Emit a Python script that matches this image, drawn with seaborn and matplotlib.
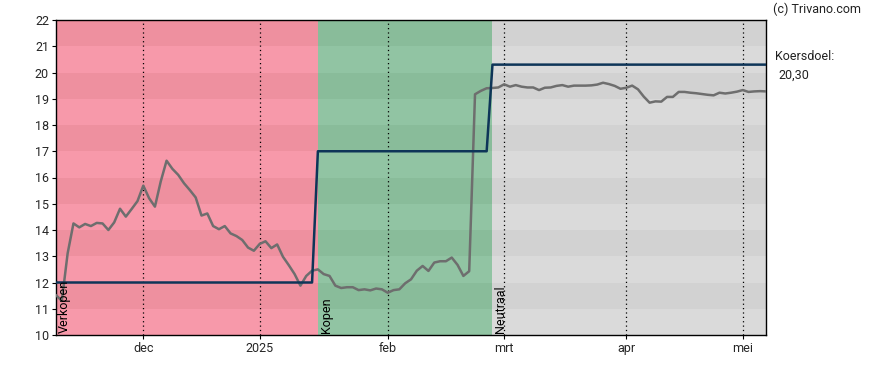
import numpy as np
import pandas as pd
import seaborn as sns
import matplotlib.pyplot as plt

# koers per handelsdag (index 0 = begin van de grafiek)
price = [11.52, 11.30, 13.11, 14.25, 14.10, 14.23, 14.15, 14.27, 14.25, 14.00,
         14.29, 14.81, 14.51, 14.80, 15.10, 15.69, 15.21, 14.89, 15.85, 16.64,
         16.33, 16.10, 15.78, 15.52, 15.24, 14.55, 14.63, 14.15, 14.03, 14.15,
         13.87, 13.77, 13.62, 13.33, 13.21, 13.47, 13.57, 13.31, 13.45, 12.98,
         12.66, 12.32, 11.88, 12.25, 12.45, 12.50, 12.32, 12.25, 11.88, 11.79,
         11.82, 11.82, 11.71, 11.74, 11.70, 11.77, 11.74, 11.61, 11.71, 11.74,
         11.97, 12.12, 12.45, 12.63, 12.44, 12.76, 12.81, 12.81, 12.95, 12.67,
         12.25, 12.43, 19.17, 19.30, 19.40, 19.41, 19.43, 19.55, 19.46, 19.52,
         19.46, 19.43, 19.43, 19.33, 19.42, 19.43, 19.49, 19.52, 19.46, 19.50,
         19.50, 19.50, 19.51, 19.54, 19.61, 19.56, 19.49, 19.38, 19.42, 19.50,
         19.36, 19.08, 18.85, 18.90, 18.89, 19.07, 19.07, 19.26, 19.26, 19.23,
         19.21, 19.18, 19.15, 19.13, 19.23, 19.20, 19.23, 19.27, 19.33, 19.26,
         19.28, 19.29, 19.28]
days = list(range(len(price)))

# koersdoel
target_days = [0, 44, 45, 74, 75, 122]
target_vals = [12, 12, 17, 17, 20.3, 20.3]

# advies-periodes
advice_labels = ['Verkopen', 'Kopen', 'Neutraal']
advice_start = [0, 45, 75]
advice_end = [45, 75, 122]
advice_light = ['#F799AA', '#91C4A3', '#DADADA']
advice_dark = ['#EE909F', '#89BC9A', '#D2D2D2']

tick_pos = [15, 35, 57, 77, 98, 118]
tick_labels = ['dec', '2025', 'feb', 'mrt', 'apr', 'mei']

df = pd.DataFrame({'dag': days, 'koers': price})
df_target = pd.DataFrame({'dag': target_days, 'doel': target_vals})

sns.set_style('white')
plt.rcParams['font.family'] = ['Roboto', 'DejaVu Sans']

fig = plt.figure(figsize=(8.88, 3.70), dpi=100)
ax = fig.add_axes([56 / 888, 35 / 370, 710 / 888, 315 / 370])

# achtergrond met banden per euro
for x0, x1, light, dark in zip(advice_start, advice_end, advice_light, advice_dark):
    for y in range(10, 22):
        ax.fill_between([x0, x1], y, y + 1, color=dark if y % 2 else light, lw=0, zorder=0)

for x in tick_pos:
    ax.axvline(x, color='black', ls=(0, (1, 2.5)), lw=0.9, zorder=1)

sns.lineplot(data=df, x='dag', y='koers', color='#6E6E6E', lw=1.8, ax=ax, zorder=3)
sns.lineplot(data=df_target, x='dag', y='doel', color='#0E3558', lw=1.8, ax=ax, zorder=4)

for x0, lab in zip(advice_start, advice_labels):
    ax.text(x0 + 0.3, 10.08, lab, rotation=90, ha='left', va='bottom',
            fontsize=9, color='black', zorder=5)

ax.set_xlim(0, 122)
ax.set_ylim(10, 22)
ax.set_yticks(range(10, 23))
ax.set_xticks(tick_pos)
ax.set_xticklabels(tick_labels)
ax.set_xlabel('')
ax.set_ylabel('')
ax.tick_params(axis='both', labelsize=9, length=3, width=0.8, color='black', direction='out',
               left=True, bottom=True, pad=2)
for s in ax.spines.values():
    s.set_color('black')
    s.set_linewidth(1)

fig.text(773 / 888, 1 - 9 / 370, '(c) Trivano.com', fontsize=9, ha='left', va='center', color='#222222')
fig.text(775 / 888, 1 - 57 / 370, 'Koersdoel:', fontsize=9, ha='left', va='center', color='#222222')
fig.text(778 / 888, 1 - 75 / 370, '20,30', fontsize=9, ha='left', va='center', color='#222222')

fig.savefig('out.png', dpi=100)
